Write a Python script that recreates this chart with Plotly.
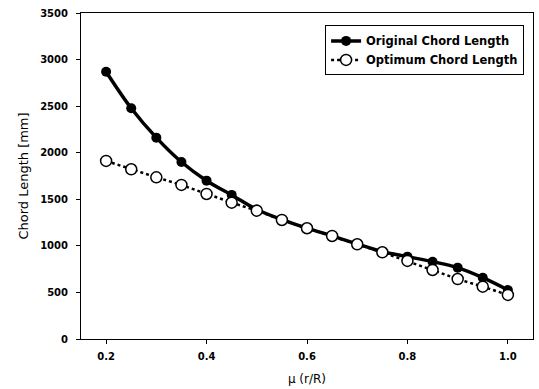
import plotly.graph_objects as go

mu = [0.2, 0.25, 0.3, 0.35, 0.4, 0.45, 0.5, 0.55, 0.6, 0.65, 0.7, 0.75, 0.8, 0.85, 0.9, 0.95, 1.0]
original = [2870, 2478, 2162, 1900, 1700, 1547, 1390, 1282, 1190, 1108, 1020, 937, 884, 830, 766, 658, 526]
optimum = [1912, 1822, 1736, 1654, 1557, 1464, 1378, 1278, 1189, 1106, 1017, 931, 838, 741, 644, 562, 473]

FAM = "DejaVu Sans, Liberation Sans, Arial"

fig = go.Figure()
fig.add_trace(go.Scatter(
    x=mu, y=original, name="Original Chord Length", mode="lines+markers",
    line=dict(color="black", width=3.5, shape="spline"),
    marker=dict(symbol="circle", size=10, color="black"),
))
fig.add_trace(go.Scatter(
    x=mu, y=optimum, name="Optimum Chord Length", mode="lines+markers",
    line=dict(color="black", width=2.5, dash="dot"),
    marker=dict(symbol="circle", size=11, color="white", line=dict(color="black", width=1.5)),
))

tickfont = dict(family=FAM, size=10, color="black", weight="bold")
fig.update_layout(
    width=539, height=389,
    margin=dict(l=81, r=6, t=13, b=50),
    paper_bgcolor="white", plot_bgcolor="white",
    showlegend=True,
    legend=dict(x=0.54, y=0.962, xanchor="left", yanchor="top",
                bordercolor="black", borderwidth=1, bgcolor="white",
                font=dict(family=FAM, size=11.5, color="black", weight="bold"),
                tracegroupgap=0, itemwidth=30),
    xaxis=dict(range=[0.15, 1.05], tickvals=[0.2, 0.4, 0.6, 0.8, 1.0],
               ticktext=["0.2", "0.4", "0.6", "0.8", "1.0"],
               showgrid=False, zeroline=False, showline=True, linecolor="black",
               linewidth=1, mirror=True, ticks="outside", ticklen=4,
               tickcolor="black", tickfont=tickfont, ticklabelstandoff=4,
               title=dict(text="\u03bc (r/R)", font=dict(family=FAM, size=12, color="black"), standoff=13)),
    yaxis=dict(range=[0, 3500], tickvals=[0, 500, 1000, 1500, 2000, 2500, 3000, 3500],
               showgrid=False, zeroline=False, showline=True, linecolor="black",
               linewidth=1, mirror=True, ticks="outside", ticklen=4,
               tickcolor="black", tickfont=tickfont, ticklabelstandoff=6,
               title=dict(text="Chord Length [mm]", font=dict(family=FAM, size=13, color="black"), standoff=8)),
)

fig.write_html("out.html")
